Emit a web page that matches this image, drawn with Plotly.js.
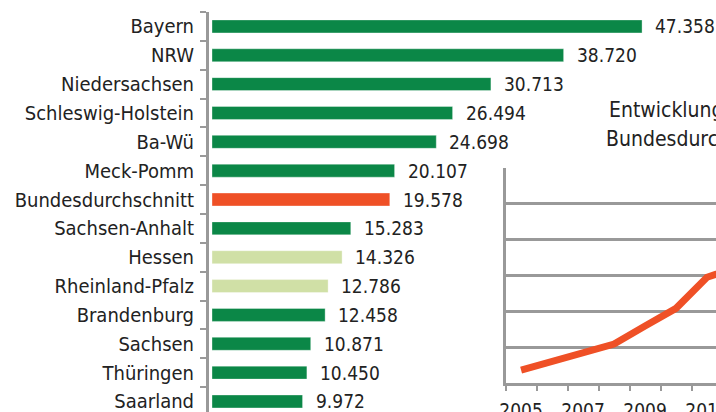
<!DOCTYPE html>
<html><head><meta charset="utf-8">
<script src="https://cdn.plot.ly/plotly-3.0.1.min.js"></script>
<style>html,body{margin:0;padding:0;background:#fff}#chart{width:716px;height:412px}</style>
</head><body><div id="chart"></div>
<script>
const states = ["Bayern","NRW","Niedersachsen","Schleswig-Holstein","Ba-Wü","Meck-Pomm","Bundesdurchschnitt","Sachsen-Anhalt","Hessen","Rheinland-Pfalz","Brandenburg","Sachsen","Thüringen","Saarland"];
const values = [47358,38720,30713,26494,24698,20107,19578,15283,14326,12786,12458,10871,10450,9972];
const barColors = ["#0b8747","#0b8747","#0b8747","#0b8747","#0b8747","#0b8747","#ef5026","#0b8747","#d0e0a6","#d0e0a6","#0b8747","#0b8747","#0b8747","#0b8747"];
const years = ["2005","2006","2007","2008","2009","2010","2011","2012"];
const yearLabels = ["2005","","2007","","2009","","2011",""];
const avgValues = [1810,2970,4230,5440,7950,10420,14750,16200];
const insetTitle = ["Entwicklung des","Bundesdurchschnitts"];

const FONT = '"DejaVu Sans Condensed","Liberation Sans Narrow",Arial,sans-serif';

const bars = {
  type:'bar', orientation:'h', x:values, y:states,
  marker:{color:barColors, line:{color:'rgba(255,255,255,0.35)', width:1}},
  width:0.45, hoverinfo:'none', xaxis:'x', yaxis:'y'
};
const line = {
  type:'scatter', mode:'lines', x:years, y:avgValues,
  line:{color:'#ef5026', width:7, shape:'linear'},
  xaxis:'x2', yaxis:'y2', hoverinfo:'none', cliponaxis:true
};

const annotations = values.map((v,i)=>({
  x:v, y:states[i], xref:'x', yref:'y', xanchor:'left', yanchor:'middle',
  xshift:11, showarrow:false,
  text:v.toLocaleString('de-DE'),
  font:{family:FONT, size:19, color:'#222'}
}));
insetTitle.forEach((t,i)=>annotations.push({
  x:[0.785,0.779][i], y:[0.756,0.682][i], xref:'paper', yref:'paper',
  xanchor:'left', yanchor:'middle', showarrow:false, text:t,
  font:{family:FONT, size:21, color:'#222'}
}));

const layout = {
  width:716, height:412,
  margin:{l:209, r:0, t:12, b:0},
  paper_bgcolor:'#fff', plot_bgcolor:'rgba(0,0,0,0)',
  showlegend:false,
  font:{family:FONT, size:20, color:'#222'},
  xaxis:{visible:false, range:[-330,55500], fixedrange:true},
  yaxis:{type:'category', categoryarray:states, range:[13.365,-0.5],
    showline:true, linecolor:'#999', linewidth:3,
    ticks:'outside', tickson:'boundaries', ticklen:6, tickwidth:2, tickcolor:'#999',
    showgrid:false, zeroline:false, ticklabelstandoff:8,
    tickfont:{family:FONT, size:20, color:'#222'}},
  xaxis2:{type:'category', categoryarray:years, domain:[0.585,1], anchor:'y2',
    range:[-0.5,6.29], tickvals:years, ticktext:yearLabels, tickangle:0,
    ticks:'outside', tickson:'boundaries', ticklen:5, tickwidth:2, tickcolor:'#999',
    showline:true, linecolor:'#999', linewidth:3, showgrid:false, ticklabelstandoff:8,
    tickfont:{family:FONT, size:19, color:'#222'}},
  yaxis2:{domain:[0.0725,0.61], anchor:'x2', range:[0,30000], dtick:5000,
    showgrid:true, gridcolor:'#999', gridwidth:3, showticklabels:false,
    showline:true, linecolor:'#999', linewidth:3, zeroline:false, ticks:''},
  annotations:annotations
};
Plotly.newPlot('chart',[bars,line],layout,{staticPlot:true,displayModeBar:false});
</script></body></html>
